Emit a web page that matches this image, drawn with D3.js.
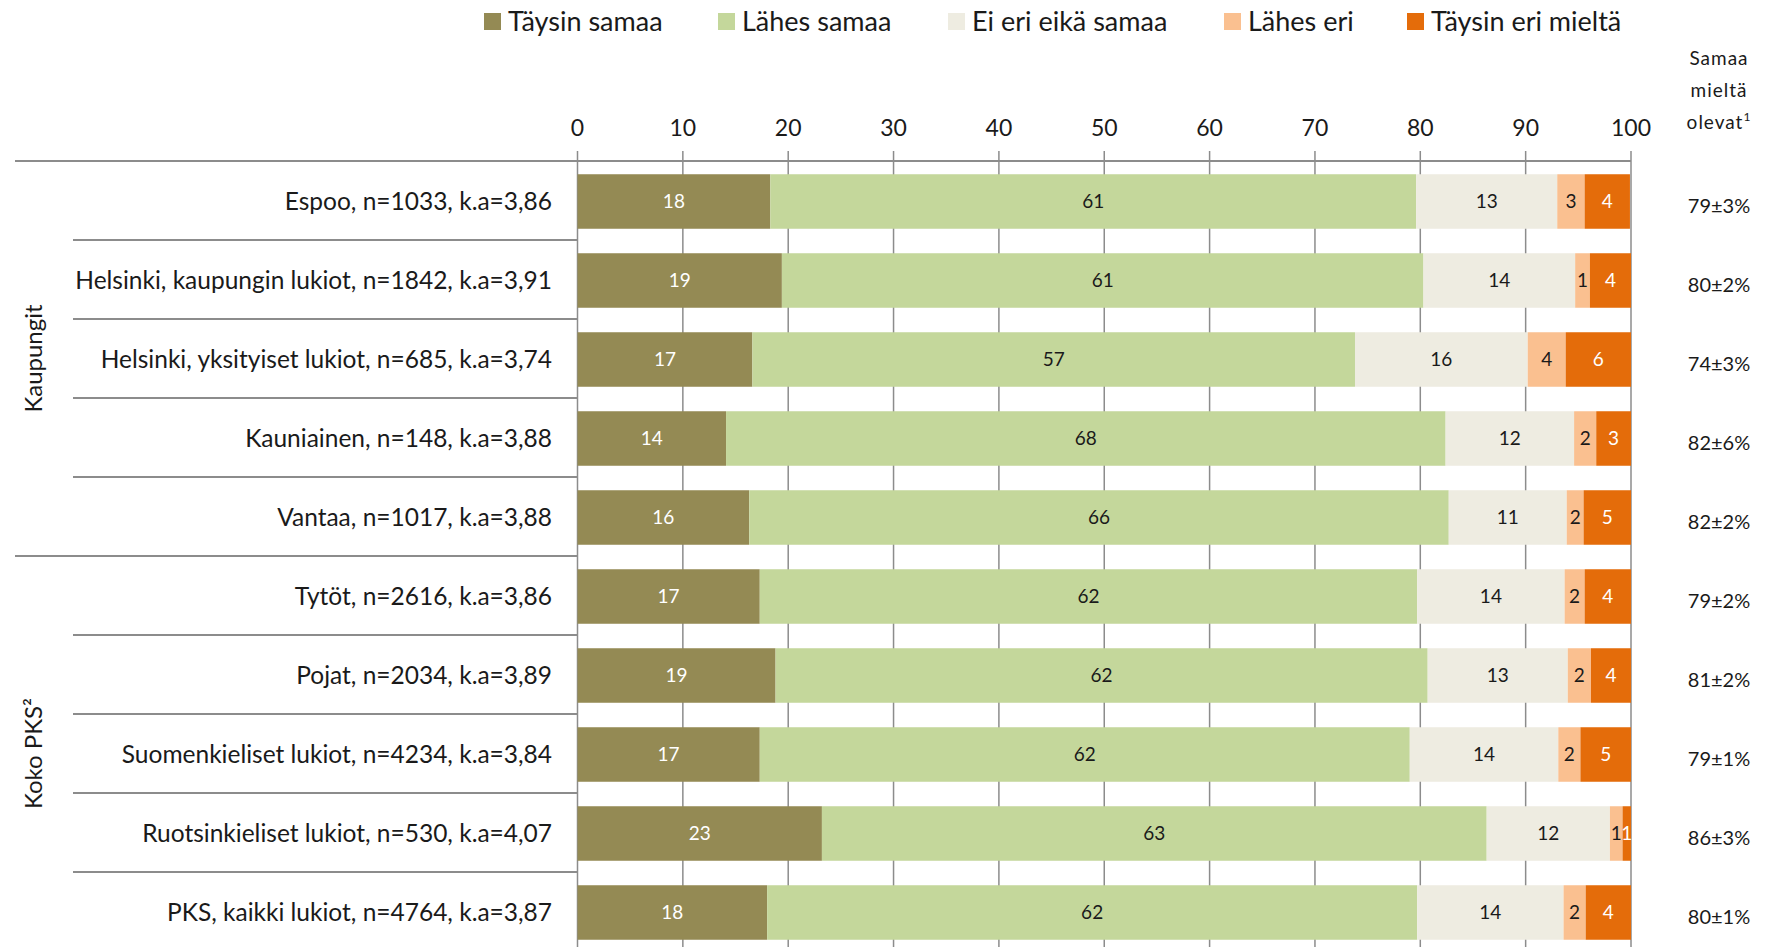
<!DOCTYPE html>
<html>
<head>
<meta charset="utf-8">
<script src="https://cdn.jsdelivr.net/npm/d3@7"></script>
<style>
  body { margin: 0; background: #fff; }
  text { font-family: Lato, 'Open Sans', sans-serif; }
</style>
</head>
<body>
<div id="chart"></div>
<script>
const categories = [
  'Espoo, n=1033, k.a=3,86',
  'Helsinki, kaupungin lukiot, n=1842, k.a=3,91',
  'Helsinki, yksityiset lukiot, n=685, k.a=3,74',
  'Kauniainen, n=148, k.a=3,88',
  'Vantaa, n=1017, k.a=3,88',
  'Tytöt, n=2616, k.a=3,86',
  'Pojat, n=2034, k.a=3,89',
  'Suomenkieliset lukiot, n=4234, k.a=3,84',
  'Ruotsinkieliset lukiot, n=530, k.a=4,07',
  'PKS, kaikki lukiot, n=4764, k.a=3,87'
]
const groupNames = ['Kaupungit', 'Koko PKS²']
const groupSizes = [5, 5]

const seriesNames = ['Täysin samaa', 'Lähes samaa', 'Ei eri eikä samaa', 'Lähes eri', 'Täysin eri mieltä']
const taysinSamaa = [18.3, 19.4, 16.6, 14.1, 16.3, 17.3, 18.8, 17.3, 23.2, 18.0]
const lahesSamaa = [61.3, 60.9, 57.2, 68.3, 66.4, 62.4, 61.9, 61.7, 63.1, 61.7]
const eiEriEikaSamaa = [13.4, 14.4, 16.4, 12.2, 11.2, 14.0, 13.3, 14.1, 11.7, 13.9]
const lahesEri = [2.6, 1.4, 3.6, 2.1, 1.6, 1.9, 2.2, 2.1, 1.2, 2.1]
const taysinEri = [4.3, 3.9, 6.2, 3.3, 4.5, 4.4, 3.8, 4.8, 0.8, 4.3]

const agreeShare = [79, 80, 74, 82, 82, 79, 81, 79, 86, 80]
const agreeMargin = [3, 2, 3, 6, 2, 2, 2, 1, 3, 1]

const xTicks = [0, 10, 20, 30, 40, 50, 60, 70, 80, 90, 100]

const colors = ['#948A54', '#C4D79B', '#EEECE1', '#FAC090', '#E46C0A']
const labelColors = ['#fff', '#1a1a1a', '#1a1a1a', '#1a1a1a', '#fff']

const W = 1765, H = 947
const gridColor = '#8c8c8c'

const table = categories.map((c, i) => ({
  cat: c,
  s0: taysinSamaa[i], s1: lahesSamaa[i], s2: eiEriEikaSamaa[i], s3: lahesEri[i], s4: taysinEri[i]
}))
const keys = ['s0', 's1', 's2', 's3', 's4']
const stacked = d3.stack().keys(keys)(table)

const svg = d3.select('#chart').append('svg')
  .attr('width', W)
  .attr('height', H)

const x = d3.scaleLinear().domain([0, 100]).range([577.5, 1631])
const y = d3.scaleBand().domain(categories).range([162, 952])
  .paddingInner(0.31).paddingOuter(0.155)
const step = y.step()
const top0 = 161

// vertical gridlines + ticks (behind the bars)
svg.append('g').selectAll('line')
  .data(xTicks)
  .enter().append('line')
  .attr('x1', d => x(d)).attr('x2', d => x(d))
  .attr('y1', 151).attr('y2', H)
  .attr('stroke', gridColor)
  .attr('stroke-width', 1.5)

// top axis labels
svg.append('g').selectAll('text')
  .data(xTicks)
  .enter().append('text')
  .attr('x', d => x(d))
  .attr('y', 136)
  .attr('text-anchor', 'middle')
  .style('font-size', '23px')
  .attr('fill', '#1a1a1a')
  .text(d => d)

// axis line, continues left as the top group line
svg.append('line')
  .attr('x1', 15).attr('x2', x(100))
  .attr('y1', top0).attr('y2', top0)
  .attr('stroke', gridColor).attr('stroke-width', 2)

// row separators on the left
let groupStarts = []
let acc = 0
groupSizes.forEach(n => { groupStarts.push(acc); acc += n })
const seps = d3.range(1, categories.length)
svg.append('g').selectAll('line')
  .data(seps)
  .enter().append('line')
  .attr('x1', d => groupStarts.includes(d) ? 15 : 73)
  .attr('x2', x(0))
  .attr('y1', d => top0 + d * step)
  .attr('y2', d => top0 + d * step)
  .attr('stroke', gridColor).attr('stroke-width', 2)

// bars
const layers = svg.append('g').selectAll('g')
  .data(stacked)
  .enter().append('g')
  .attr('fill', (d, i) => colors[i])

layers.selectAll('rect')
  .data(d => d)
  .enter().append('rect')
  .attr('x', d => x(d[0]))
  .attr('width', d => x(d[1]) - x(d[0]))
  .attr('y', d => y(d.data.cat))
  .attr('height', y.bandwidth())

// bar labels
stacked.forEach((layer, li) => {
  svg.append('g').selectAll('text')
    .data(layer)
    .enter().append('text')
    .attr('x', d => (x(d[0]) + x(d[1])) / 2)
    .attr('y', d => y(d.data.cat) + y.bandwidth() / 2)
    .attr('dy', '0.35em')
    .attr('text-anchor', 'middle')
    .attr('fill', labelColors[li])
    .style('font-size', '19px')
    .text(d => Math.round(d[1] - d[0]))
})

// category labels
svg.append('g').selectAll('text')
  .data(categories)
  .enter().append('text')
  .attr('x', 552)
  .attr('y', d => y(d) + y.bandwidth() / 2)
  .attr('dy', '0.35em')
  .attr('text-anchor', 'end')
  .attr('fill', '#1a1a1a')
  .style('font-size', '24.5px')
  .text(d => d)

// group labels
svg.append('g').selectAll('text')
  .data(groupNames)
  .enter().append('text')
  .attr('transform', (d, i) => {
    const cy = top0 + (groupStarts[i] + groupSizes[i] / 2) * step
    return 'translate(34,' + cy + ') rotate(-90)'
  })
  .attr('dy', '0.35em')
  .attr('text-anchor', 'middle')
  .attr('fill', '#1a1a1a')
  .style('font-size', '24px')
  .text(d => d)

// right column
const rightX = 1719
const head = svg.append('text')
  .attr('text-anchor', 'middle')
  .attr('fill', '#1a1a1a')
  .style('font-size', '19px')
  .style('letter-spacing', '1px')
head.append('tspan').attr('x', rightX).attr('y', 65).text('Samaa')
head.append('tspan').attr('x', rightX).attr('y', 97).text('mieltä')
head.append('tspan').attr('x', rightX).attr('y', 129).text('olevat')
head.append('tspan').attr('dy', -8).style('font-size', '12px').text('1')

svg.append('g').selectAll('text')
  .data(categories)
  .enter().append('text')
  .attr('x', rightX)
  .attr('y', d => y(d) + y.bandwidth() / 2 + 4)
  .attr('dy', '0.35em')
  .attr('text-anchor', 'middle')
  .attr('fill', '#1a1a1a')
  .style('font-size', '20px')
  .text((d, i) => agreeShare[i] + '±' + agreeMargin[i] + '%')

// legend
const legendX = [484, 718, 948, 1224, 1407]
const legend = svg.append('g').selectAll('g')
  .data(seriesNames)
  .enter().append('g')
  .attr('transform', (d, i) => 'translate(' + legendX[i] + ',0)')
legend.append('rect')
  .attr('x', 0).attr('y', 13)
  .attr('width', 17).attr('height', 17)
  .attr('fill', (d, i) => colors[i])
legend.append('text')
  .attr('x', 24).attr('y', 22)
  .attr('dy', '0.35em')
  .attr('fill', '#1a1a1a')
  .style('font-size', '27px')
  .text(d => d)
</script>
</body>
</html>
